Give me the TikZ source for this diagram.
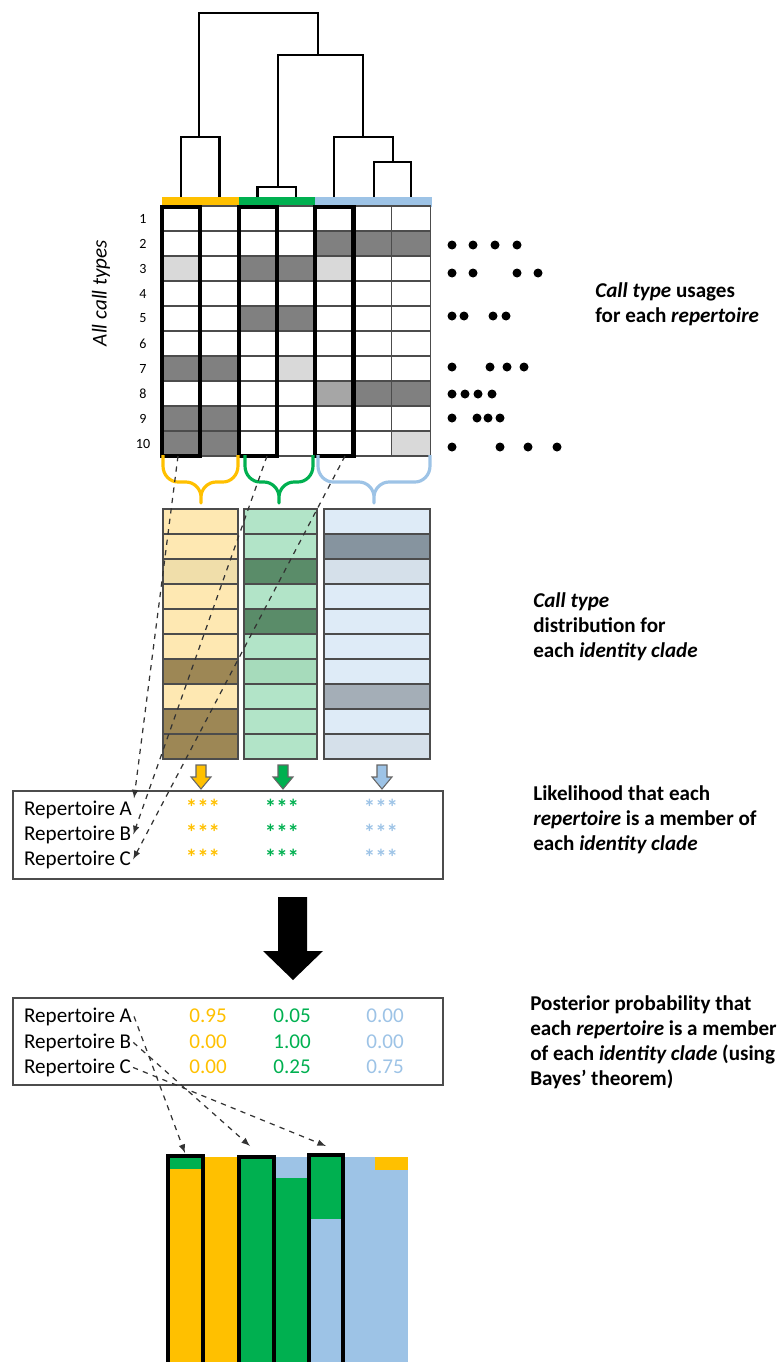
\documentclass[tikz,border=0pt]{standalone}
\usepackage{fontspec}
\setmainfont{Carlito}
\usetikzlibrary{positioning,calc}
\definecolor{clyel}{HTML}{FFC000}
\definecolor{clgrn}{HTML}{00B050}
\definecolor{clblu}{HTML}{9DC3E6}
\definecolor{dk}{HTML}{808080}
\definecolor{lt}{HTML}{D9D9D9}
\definecolor{md}{HTML}{A6A6A6}
\definecolor{ya}{HTML}{FEE8B2}
\definecolor{yb}{HTML}{F0DEAA}
\definecolor{yc}{HTML}{9D8755}
\definecolor{ga}{HTML}{B2E4C8}
\definecolor{gb}{HTML}{A6DBBB}
\definecolor{gc}{HTML}{5A8C69}
\definecolor{ba}{HTML}{DEEBF7}
\definecolor{bb}{HTML}{D5E0EA}
\definecolor{bc}{HTML}{86949F}
\definecolor{bd}{HTML}{A4AEB7}
\tikzset{tree/.style={line width=1.7pt},
         selbox/.style={draw,line width=2.3pt},
         cell/.style={draw=black!70,line width=0.6pt},
         brace/.style={line width=1.8pt,line join=round},
         link/.style={-latex,dashed,line width=0.7pt,black!80},
         rep/.style={anchor=base west,inner sep=1pt,font=\fontsize{12}{14}\selectfont},
         num/.style={anchor=base,font=\fontsize{12}{14}\selectfont},
         stars/.style={anchor=base,font=\fontsize{13}{14}\selectfont\bfseries},
         note/.style={anchor=north west,inner sep=0pt,align=left,font=\fontsize{12}{14.2}\selectfont\bfseries}
}

\begin{document}
\begin{tikzpicture}[x=0.02cm,y=-0.02cm]
  \useasboundingbox (0,0) rectangle (783,1362);
  % dendrogram
  \draw[tree] (181,197) |- (219.5,137) -- (219.5,197);
  \draw[tree] (199,137) |- (318,13) -- (318,55);
  \draw[tree] (278,187) |- (363,55) -- (363,137);
  \draw[tree] (257.8,197) |- (296,187) -- (296,197);
  \draw[tree] (334,197) |- (393,137) -- (393,162);
  \draw[tree] (374,197) |- (411,162) -- (411,197);
  \fill[clyel] (162,197) rectangle (238.6,207);
  \fill[clgrn] (238.6,197) rectangle (315.2,207);
  \fill[clblu] (315.2,197) rectangle (432,207);

  % call type usages
  \foreach \c in {1,...,7}
    \foreach \r in {1,...,10}
      \draw[cell] ({162+(\c-1)*38.3},{206+(\r-1)*25}) rectangle +(38.3,25);
  \foreach \c/\r/\s in {1/3/lt,1/7/dk,2/7/dk,1/9/dk,2/9/dk,1/10/dk,2/10/dk,
                        3/3/dk,4/3/dk,3/5/dk,4/5/dk,4/7/lt,
                        5/2/dk,6/2/dk,7/2/dk,5/3/lt,5/8/md,6/8/dk,7/8/dk,7/10/lt}
    \draw[cell,fill=\s] ({162+(\c-1)*38.3},{206+(\r-1)*25}) rectangle +(38.3,25);
  \foreach \r in {1,...,10}
    \node[font=\fontsize{8}{9}\selectfont] (n\r) at (143,{218.5+(\r-1)*25}) {\r};
  \draw[selbox] (162,207) rectangle (200.3,456);
  \draw[selbox] (238.6,207) rectangle (276.9,456);
  \draw[selbox] (315.2,207) rectangle (353.5,456);
  \coordinate (s1) at (178,456);
  \coordinate (s2) at (267,456);
  \coordinate (s3) at (345,456);
  \node[rotate=90,font=\fontsize{12}{14}\selectfont\itshape] (alltypes) at (101,293) {All call types};

  \foreach \x/\y in {452/245,473/245,495/245,517/245,
                     452/273,473/273,517/273,538/273,
                     452/316,464/316,493/316,506/316,
                     452/367,490/367,507/367,524/367,
                     452/394,465/394,478/394,492/394,
                     452/418,477/418,488/418,500/418,
                     452/447,500/447,528/447,557/447}
    \fill (\x,\y) circle (4.5);

  \node[note] (usage) at (595,282) {\textit{Call type} usages\\for each \textit{repertoire}};
  \node[note] (distr) at (533,592) {\textit{Call type}\\distribution for\\each \textit{identity clade}};
  \node[note] (likel) at (533,785) {Likelihood that each\\\textit{repertoire} is a member of\\each \textit{identity clade}};
  \node[note] (poster) at (530,995) {Posterior probability that\\each \textit{repertoire} is a member\\of each \textit{identity clade} (using\\Bayes’ theorem)};

  % braces
  \foreach \xa/\xm/\xb/\col in {163/201/238/clyel,245/279/313/clgrn,318/374/430/clblu}
    \draw[brace,\col] (\xa,455) -- (\xa,466) .. controls (\xa,475) and ({\xa+7},482) .. ({\xa+15},482)
      -- ({\xm-15},482) .. controls ({\xm-7},482) and (\xm,489) .. (\xm,497) -- (\xm,503)
      -- (\xm,497) .. controls (\xm,489) and ({\xm+7},482) .. ({\xm+15},482)
      -- ({\xb-15},482) .. controls ({\xb-7},482) and (\xb,475) .. (\xb,466) -- (\xb,455);

  % call type distribution per clade
  \foreach \r/\cy/\cg/\cb in {1/ya/ga/ba,2/ya/ga/bc,3/yb/gc/bb,4/ya/ga/ba,5/ya/gc/ba,
                              6/ya/ga/ba,7/yc/gb/ba,8/ya/ga/bd,9/yc/ga/ba,10/yc/ga/bb}{
    \draw[cell,fill=\cy] (163,{509+(\r-1)*25}) rectangle +(75,25);
    \draw[cell,fill=\cg] (244,{509+(\r-1)*25}) rectangle +(73,25);
    \draw[cell,fill=\cb] (324,{509+(\r-1)*25}) rectangle +(106,25);
  }

  \foreach \x/\col in {201/clyel,283/clgrn,382/clblu}
    \draw[fill=\col,draw=black!60,line width=0.6pt] ({\x-5},765) -- ({\x+5},765) -- ({\x+5},777)
      -- ({\x+10},777) -- (\x,789) -- ({\x-10},777) -- ({\x-5},777) -- cycle;

  % likelihood
  \draw[black!70,line width=0.8pt] (13,791) rectangle (443,879);
  \node[rep] (lA) at (22,815) {Repertoire A};
  \node[rep] (lB) at (22,840) {Repertoire B};
  \node[rep] (lC) at (22,865) {Repertoire C};
  \foreach \y/\n in {815/A,840/B,865/C}{
    \node[stars,text=clyel] (ly\n) at (203,\y) {***};
    \node[stars,text=clgrn] (lg\n) at (282,\y) {***};
    \node[stars,text=clblu] (lb\n) at (381,\y) {***};
  }
  \draw[link] (s1) -- (lA.north east);
  \draw[link] (s2) -- (lB.east);
  \draw[link] (s3) -- (lC.east);

  \fill (278,897) -- (307,897) -- (307,951) -- (323,951) -- (293,980) -- (263,951) -- (278,951) -- cycle;

  % posterior
  \draw[black!70,line width=0.8pt] (13,998) rectangle (443,1085);
  \node[rep] (pA) at (22,1022) {Repertoire A};
  \node[rep] (pB) at (22,1048) {Repertoire B};
  \node[rep] (pC) at (22,1073) {Repertoire C};
  \node[num,text=clyel] (py1) at (208,1022) {0.95};
  \node[num,text=clgrn] (pg1) at (292,1022) {0.05};
  \node[num,text=clblu] (pb1) at (385,1022) {0.00};
  \node[num,text=clyel] (py2) at (208,1048) {0.00};
  \node[num,text=clgrn] (pg2) at (292,1048) {1.00};
  \node[num,text=clblu] (pb2) at (385,1048) {0.00};
  \node[num,text=clyel] (py3) at (208,1073) {0.00};
  \node[num,text=clgrn] (pg3) at (292,1073) {0.25};
  \node[num,text=clblu] (pb3) at (385,1073) {0.75};

  % assignment bars
  \fill[clyel] (168,1169) rectangle (239,1362);
  \fill[clgrn] (168,1157) rectangle (203,1169);
  \fill[clyel] (203,1157) rectangle (239,1169);
  \fill[clgrn] (239,1157) rectangle (309,1362);
  \fill[clblu] (274,1157) rectangle (309,1178);
  \fill[clgrn] (309,1157) rectangle (343,1219);
  \fill[clblu] (309,1219) rectangle (408,1362);
  \fill[clblu] (343,1157) rectangle (408,1219);
  \fill[clyel] (375,1157) rectangle (408,1170);
  \draw[selbox] (168,1362) |- (203,1156) -- (203,1362);
  \draw[selbox] (239,1362) |- (274,1157) -- (274,1362);
  \draw[selbox] (309,1362) |- (343,1155) -- (343,1362);
  \coordinate (b1) at (185,1153);
  \coordinate (b3) at (250,1146);
  \coordinate (b5) at (326,1146);
  \draw[link] (pA.east) -- (b1);
  \draw[link] (pB.east) -- (b3);
  \draw[link] (pC.east) -- (b5);
\end{tikzpicture}
\end{document}
